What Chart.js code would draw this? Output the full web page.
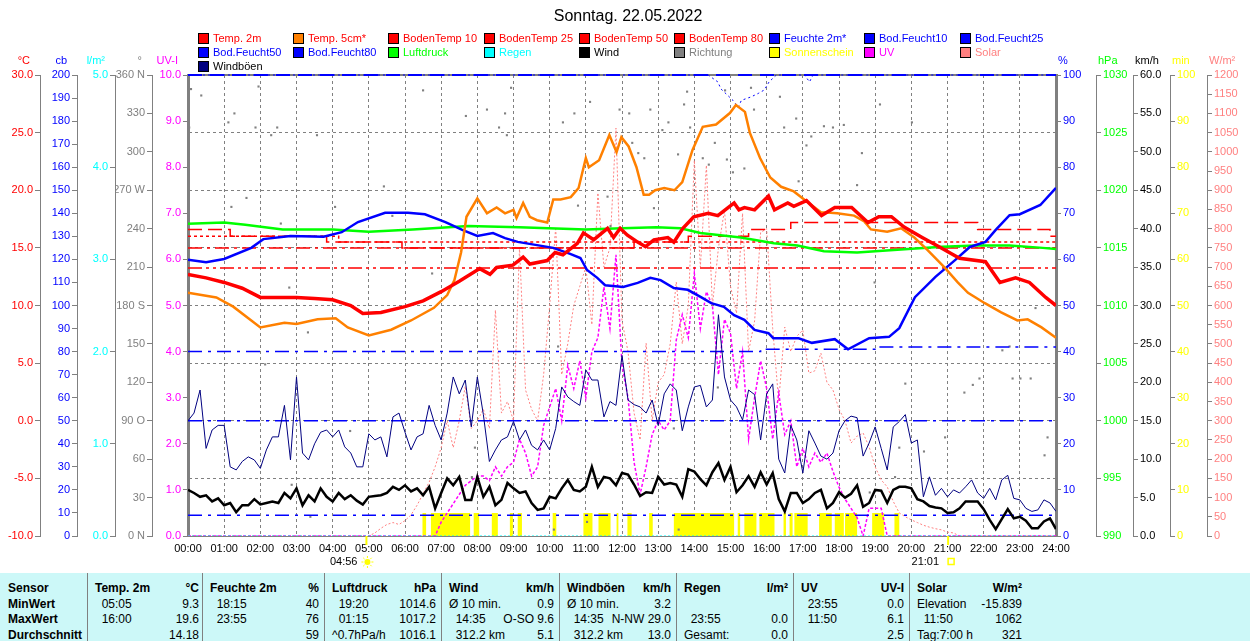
<!DOCTYPE html>
<html>
<head>
<meta charset="utf-8">
<script src="https://cdn.jsdelivr.net/npm/chart.js@4.4.1/dist/chart.umd.min.js"></script>
<style>
body{margin:0;background:#fff;font-family:"Liberation Sans",Arial,sans-serif;}
#wrap{position:relative;width:1250px;height:641px;overflow:hidden;}
#c{position:absolute;left:0;top:0;}
#title{position:absolute;left:0;top:7px;width:1256px;text-align:center;font-size:16px;line-height:18px;}
.lg{position:absolute;font-size:11px;line-height:13px;white-space:nowrap;}
.lg i{position:absolute;left:0;top:1px;width:9px;height:9px;border:1px solid #000;}
.lg span{position:absolute;left:15px;top:0;}
#tbl{position:absolute;left:0;top:573px;width:1250px;height:68px;background:#ccf8f8;font-size:12px;}
.cell{position:absolute;white-space:pre;line-height:16px;}
.b{font-weight:bold;}
.sep{position:absolute;top:0;width:1px;height:68px;background:#808080;}
</style>
</head>
<body>
<div id="wrap">
  <canvas id="c" width="1250" height="573"></canvas>
  <div id="title">Sonntag. 22.05.2022</div>
  <div id="legend"></div>
  <div id="tbl"></div>
</div>
<script>
(function(){
// ---- data ----
const t2Times = ['00:00','00:30','01:00','01:30','02:00','02:30','03:00','03:30','04:00','04:30','04:50','05:20','06:00','06:30','07:00','07:30','08:04','08:21','08:32','08:59','09:16','09:27','09:56','10:09','10:22','10:46','10:56','11:13','11:36','11:46','11:57','12:09','12:26','12:39','12:53','13:16','13:26','13:41','13:59','14:23','14:39','14:56','15:06','15:14','15:23','15:40','16:03','16:13','16:35','16:45','17:06','17:31','17:53','18:21','18:48','19:06','19:27','19:48','20:18','20:46','21:20','22:03','22:27','22:53','23:16','23:43','24:00'];
const t2Vals = [12.7,12.4,12.0,11.5,10.7,10.7,10.7,10.6,10.5,10.0,9.3,9.4,9.9,10.4,11.2,12.1,13.2,12.7,13.3,13.5,14.2,13.6,13.9,14.6,14.4,15.4,16.3,15.7,16.7,15.9,16.7,16.1,15.5,15.1,15.7,15.9,15.5,16.7,17.7,18.0,17.8,18.5,18.9,18.3,18.5,18.3,19.5,18.3,18.9,18.6,19.1,17.8,18.5,18.5,17.2,17.7,17.7,16.8,15.9,15.1,14.1,13.8,12.0,12.4,12.0,10.7,10.0];

const t5Times = ['00:00','00:47','01:15','01:45','02:00','02:40','03:00','03:35','04:05','04:25','05:00','05:37','06:10','06:48','07:10','07:22','07:33','07:42','08:00','08:16','08:32','08:46','09:00','09:05','09:16','09:27','09:39','09:56','10:06','10:18','10:35','10:48','11:00','11:05','11:22','11:39','11:51','11:59','12:11','12:24','12:36','12:45','12:55','13:10','13:27','13:40','13:57','14:14','14:36','14:59','15:09','15:24','15:32','15:49','16:06','16:24','16:45','17:07','17:30','17:57','18:25','18:42','18:53','19:20','19:43','20:05','20:27','20:55','21:17','21:34','22:02','22:29','22:56','23:13','23:36','24:00'];
const t5Vals = [11.1,10.7,9.9,8.7,8.1,8.5,8.4,8.8,8.9,8.1,7.4,7.9,8.7,9.8,10.9,12.2,14.6,17.7,19.3,18.0,18.5,18.0,18.3,17.6,18.9,17.7,17.4,17.2,19.2,19.2,19.4,20.2,22.8,22.0,22.6,24.8,23.3,24.6,23.8,22.0,19.6,19.6,20.0,20.2,20.0,20.7,23.5,25.5,25.7,26.7,27.4,26.8,25.0,22.8,21.1,20.3,19.9,19.0,18.1,18.0,17.8,17.3,16.6,16.4,16.7,15.9,14.8,13.3,12.0,11.1,10.2,9.4,8.7,8.8,8.1,7.2];

const humTimes = ['00:00','00:30','01:00','01:45','02:05','02:50','03:45','04:15','04:42','05:27','06:05','06:33','07:07','07:35','08:00','08:26','08:46','09:07','09:39','10:06','10:34','10:51','11:02','11:19','11:32','12:02','12:26','12:47','13:04','13:26','13:49','14:11','14:28','14:49','15:06','15:23','15:40','16:03','16:11','16:53','17:15','17:53','18:15','18:50','19:23','19:40','20:06','20:40','21:13','21:37','22:03','22:20','22:43','23:00','23:34','24:00'];
const humVals = [59.9,59.4,60.1,62.5,64.4,65.1,64.9,65.9,68.1,70.1,70.1,69.8,68.1,66.4,65.1,65.7,64.6,63.8,63.1,62.5,61.2,60.3,57.7,56.0,54.4,54.0,54.9,56.0,55.5,53.8,53.4,51.8,50.5,49.7,47.9,46.9,44.7,44.0,42.9,42.9,41.9,42.7,40.5,42.9,43.2,45.1,51.8,56.2,59.9,62.7,63.8,66.4,69.6,69.8,71.8,75.5];

const presTimes = ['00:00','01:00','01:35','02:37','04:00','05:00','06:13','07:45','09:09','11:00','12:00','12:57','13:37','14:10','15:17','16:12','16:51','17:35','18:30','19:55','20:51','21:46','22:43','23:38','24:00'];
const presVals = [1017.1,1017.2,1017.0,1016.6,1016.6,1016.4,1016.6,1016.9,1016.8,1016.6,1016.7,1016.8,1016.7,1016.3,1015.9,1015.4,1015.2,1014.7,1014.6,1014.9,1015.1,1015.2,1015.2,1015.0,1014.9];

const bt10Times = ['00:00','01:10','03:50','05:55','12:20','13:50','15:30','16:40','21:50','23:50','24:00'];
const bt10Vals = [16.6,16.0,15.5,15.0,15.5,16.0,16.6,17.2,16.6,16.0,16.0];
const bt25Times = ['00:00','04:10','24:00'];
const bt25Vals = [16.0,15.5,15.5];
const bt50Times = ['00:00','24:00'];
const bt50Vals = [15.0,15.0];
const bt80Times = ['00:00','24:00'];
const bt80Vals = [13.25,13.25];

const bf10Times = ['00:00','14:23','14:39','14:44','15:04','15:13','15:18','15:34','15:46','15:56','16:04','16:16','17:03','17:11','17:17','24:00'];
const bf10Vals = [200,200,197,194,189,186,189,190.5,192,193.5,197,200,200,197,200,200];
const bf25Times = ['00:00','24:00'];
const bf25Vals = [200,200];
const bf50Times = ['00:00','15:50','19:05','24:00'];
const bf50Vals = [80,81,82,82];
const bf80Times = ['00:00','24:00'];
const bf80Vals = [50,50];
const bfLowTimes = ['00:00','24:00'];
const bfLowVals = [9,9];

const rainTimes = ['00:00','24:00'];
const rainVals = [0,0];

// 10-minute values, 00:00 .. 24:00
const windVals = [6.0,5.6,5.1,5.3,4.5,4.9,4.0,4.3,3.1,4.0,
  4.0,4.8,4.1,4.3,4.5,4.3,5.6,4.9,6.2,4.0,
  5.3,4.5,6.2,5.1,4.5,5.6,4.8,5.3,4.6,4.1,
  5.1,5.2,5.3,5.6,6.4,6.0,6.6,5.8,6.2,5.3,
  6.4,3.6,5.6,7.5,6.6,7.7,4.7,4.7,7.7,5.1,
  6.4,4.0,4.7,6.9,6.2,5.6,5.8,4.3,3.4,3.6,
  5.1,4.9,6.2,7.3,6.0,5.8,6.4,9.0,6.4,7.7,
  7.5,6.6,8.2,
  8.0,6.7,5.2,5.7,5.6,7.7,6.7,6.9,6.7,5.1,
  8.7,8.4,7.4,6.6,8.3,9.5,7.3,9.0,5.7,6.6,
  7.8,6.4,8.3,6.7,8.2,4.8,3.2,5.6,5.6,4.3,
  4.8,5.6,6.0,3.6,4.3,5.7,5.0,5.5,6.6,3.8,
  4.3,6.0,5.9,4.3,6.0,6.4,6.4,6.2,4.8,4.5,
  3.9,3.7,3.6,3.0,3.1,3.6,4.5,4.5,4.5,3.5,
  2.1,0.9,2.2,3.5,2.3,2.5,2.0,1.0,1.0,1.9,
  2.3,0.9];
const gustVals = [15.0,16.0,19.0,11.4,13.8,14.4,14.4,9.0,8.6,9.7,
  10.3,9.9,8.8,11.2,12.9,12.9,17.0,9.9,20.7,10.8,
  9.9,12.0,13.5,13.8,12.9,13.8,11.6,10.8,9.0,9.0,
  13.3,12.5,12.9,10.3,15.5,16.0,13.5,11.2,12.9,13.3,
  17.0,14.4,12.5,16.0,20.7,18.5,20.3,14.2,20.7,15.8,
  9.7,11.2,12.5,12.9,14.9,12.5,13.8,11.8,11.2,12.5,
  11.2,14.0,19.4,18.1,17.5,17.0,21.6,20.3,20.3,15.5,
  17.5,17.0,23.5,
  17.7,17.1,16.8,16.0,17.7,14.4,18.5,19.8,19.0,13.7,
  16.8,19.4,19.6,16.8,17.7,28.8,20.7,17.7,16.8,15.1,
  19.0,18.4,12.5,18.5,19.8,10.0,8.2,14.4,12.5,8.2,
  13.7,12.1,10.4,10.0,10.8,13.7,15.0,15.6,15.4,10.4,
  12.1,14.2,11.4,8.6,14.2,14.9,15.8,12.1,12.5,5.1,
  7.7,5.3,6.2,5.1,6.0,5.6,6.4,7.3,5.6,4.9,
  6.2,4.7,7.3,7.9,4.9,4.7,3.6,3.2,3.4,4.7,
  4.3,3.2];
const solarVals = [0,0,0,0,0,0, 0,0,0,0,0,0, 0,0,0,0,0,0, 0,0,0,0,0,0, 0,0,0,0,0,0,
  0,8,20,30,35,30,
  40,55,80,110,140,180,
  230,300,230,300,390,280,
  300,330,280,588,320,350,
  300,752,380,330,300,420,
  600,804,420,500,600,650,
  700,550,893,700,750,1062,
  560,480,320,250,502,300,
  400,420,500,661,500,600,
  978,700,965,600,750,848,
  650,580,840,480,560,790,
  800,540,350,544,480,520,
  536,424,430,476,400,380,
  330,300,242,260,268,232,
  180,146,128,90,60,50,
  42,35,28,23,19,16,
  10,8,0,0,0,0,
  0,0,0,0,0,0, 0,0,0,0,0,0,
  0];
const uvVals = [0,0,0,0,0,0, 0,0,0,0,0,0, 0,0,0,0,0,0, 0,0,0,0,0,0, 0,0,0,0,0,0, 0,0,0,0,0,0, 0,0,0,0,0,0,
  0.3,0.5,0.7,0.9,1.1,1.2,
  1.3,1.3,1.2,1.5,1.3,1.5,
  1.6,2.1,1.8,1.3,1.5,2.4,
  2.8,3.2,2.5,3.7,3.2,3.8,
  3.0,4.0,4.3,5.4,4.5,6.1,
  3.7,3.0,1.6,0.9,1.5,2.2,
  2.5,2.3,2.5,4.25,4.8,4.3,
  5.7,4.5,5.3,5.0,3.5,4.7,
  4.4,3.2,4.0,2.1,3.0,3.8,
  3.2,2.1,3.1,2.2,2.5,1.5,
  1.9,1.5,1.8,1.6,1.8,1.4,
  1.06,0.8,0.6,0.4,0.0,0.6,
  0.6,0.6,0,0,0,0,
  0,0,0,0,0,0, 0,0,0,0,0,0, 0,0,0,0,0,0, 0,0,0,0,0,0,
  0];

const sunStart = ['06:29','06:43','07:54','08:24','08:54','09:07','10:05','10:56','11:21','11:51','12:09','12:45','13:26','15:12','15:23','15:48','16:28','16:38','16:46','17:27','17:53','18:10','18:55','19:32'];
const sunEnd   = ['06:35','07:48','08:03','08:34','08:59','09:14','10:11','11:11','11:41','11:54','12:16','12:51','15:06','15:16','15:43','16:13','16:32','16:43','17:08','17:48','18:08','18:30','19:15','19:40'];

const dirTimes = ['00:02','00:05','00:22','01:07','01:12','01:17','01:37','01:52','01:57','02:08','02:18','02:28','02:34','02:48','02:52','03:19','03:23','03:34','04:04','04:29','05:25','05:39','06:30','06:45','07:41','07:51','07:56','08:16','08:36','08:46','08:49','08:56','10:07','10:14','10:22','10:41','10:47','11:02','11:07','11:36','11:41','11:56','12:12','12:17','12:27','12:37','12:47','12:53','13:07','13:17','13:26','13:33','13:34','13:43','13:48','13:53','14:14','14:24','14:34','14:39','14:51','14:54','15:04','15:23','15:34','15:39','16:22','16:29','16:49','16:53','17:06','17:14','17:35','17:50','18:08','18:30','18:38','18:51','18:59','19:08','19:33','19:40','19:50','20:01','20:21','20:56','21:28','21:42','21:53','22:31','22:43','22:48','23:01','23:18','23:26','23:41','23:46'];
const dirDeg = [319,349,344,323,257,330,264,319,351,134,313,319,244,194,40,159,15,313,257,82,273,250,348,205,328,46,69,333,319,330,313,350,5,148,323,330,258,11,339,265,242,333,330,307,299,295,333,256,317,323,84,298,5,337,347,319,295,290,307,116,348,294,284,287,350,333,343,319,326,277,305,312,320,319,321,274,299,34,198,337,46,69,119,323,66,77,112,118,123,145,148,123,123,123,178,63,77];

const sunEvents = ['04:56','21:01'];
const dirTicks = [0,90,180,270,360];
const dirNames = ['N','O','S','W','N'];

const legendItems = [
  ['Temp. 2m','#ff0000','#ff0000'],['Temp. 5cm*','#ff8000','#ff0000'],['BodenTemp 10','#ff0000','#ff0000'],
  ['BodenTemp 25','#ff0000','#ff0000'],['BodenTemp 50','#ff0000','#ff0000'],['BodenTemp 80','#ff0000','#ff0000'],
  ['Feuchte 2m*','#0000ff','#0000ff'],['Bod.Feucht10','#0000ff','#0000ff'],['Bod.Feucht25','#0000ff','#0000ff'],
  ['Bod.Feucht50','#0000ff','#0000ff'],['Bod.Feucht80','#0000ff','#0000ff'],['Luftdruck','#00ff00','#00ff00'],
  ['Regen','#00ffff','#00ffff'],['Wind','#000000','#000000'],['Richtung','#808080','#808080'],
  ['Sonnenschein','#ffff00','#ffff00'],['UV','#ff00ff','#ff00ff'],['Solar','#ff8080','#ff8080'],
  ['Windböen','#000080','#000000']
];

const axisTitles = [['yT','°C','#ff0000'],['yCb','cb','#0000ff'],['yRain','l/m²','#00ffff'],['yDir','°','#808080'],['yUv','UV-I','#ff00ff'],
  ['yHum','%','#0000ff'],['yPres','hPa','#00ff00'],['yWind','km/h','#000000'],['ySun','min','#ffff00'],['ySol','W/m²','#ff8080']];

const tableCols = [[0,87],[87,202],[202,324],[324,441],[441,559],[559,676],[676,793],[793,909],[909,1027]];
const tableRows = [
  [['Sensor',''],['Temp. 2m','°C'],['Feuchte 2m','%'],['Luftdruck','hPa'],['Wind','km/h'],['Windböen','km/h'],['Regen','l/m²'],['UV','UV-I'],['Solar','W/m²']],
  [['MinWert',''],['  05:05','9.3'],['  18:15','40'],['  19:20','1014.6'],['Ø 10 min.','0.9'],['Ø 10 min.','3.2'],['',''],['  23:55','0.0'],['Elevation','-15.839']],
  [['MaxWert',''],['  16:00','19.6'],['  23:55','76'],['  01:15','1017.2'],['  14:35','O-SO 9.6'],['  14:35','N-NW 29.0'],['  23:55','0.0'],['  11:50','6.1'],['  11:50','1062']],
  [['Durchschnitt',''],['','14.18'],['','59'],['^0.7hPa/h','1016.1'],['  312.2 km','5.1'],['  312.2 km','13.0'],['Gesamt:','0.0'],['','2.5'],['Tag:7:00 h','321']]
];

// ---- helpers ----
function hm(t){ const p = t.split(':'); return +p[0] + p[1]/60; }
function pts(times, vals){ return times.map((t,i) => ({x: hm(t), y: vals[i]})); }
function grid10(vals){ return vals.map((v,i) => ({x: i/6, y: v})); }

// legend
const lg = document.getElementById('legend');
legendItems.forEach((it,i) => {
  const d = document.createElement('div');
  d.className = 'lg';
  d.style.left = Math.round(198 + 95.2*(i%9)) + 'px';
  d.style.top = (32 + 14*Math.floor(i/9)) + 'px';
  d.innerHTML = '<i style="background:'+it[1]+'"></i><span style="color:'+it[2]+'">'+it[0]+'</span>';
  lg.appendChild(d);
});

// table
const tb = document.getElementById('tbl');
tableCols.slice(1).forEach(c => {
  const s = document.createElement('div'); s.className = 'sep'; s.style.left = c[0] + 'px'; tb.appendChild(s);
});
tableRows.forEach((row,r) => {
  row.forEach((cell,c) => {
    const [x0,x1] = tableCols[c];
    const bold = (r === 0 || c === 0) ? ' b' : '';
    const top = Math.round(7 + 15.7*r) + 'px';
    const a = document.createElement('div');
    a.className = 'cell' + bold; a.style.left = (x0 + 8) + 'px'; a.style.top = top;
    a.textContent = cell[0]; tb.appendChild(a);
    const b = document.createElement('div');
    b.className = 'cell' + bold; b.style.right = (1250 - x1 + (c === 1 ? 3 : 5)) + 'px'; b.style.top = top;
    b.textContent = cell[1]; tb.appendChild(b);
  });
});

// ---- chart ----
Chart.defaults.font.family = '"Liberation Sans", Arial, sans-serif';
Chart.defaults.font.size = 11;
Chart.defaults.color = '#000';

function yAxis(pos, weight, width, min, max, step, color, fmt, borderWidth){
  return {
    type: 'linear', position: pos, weight: weight, min: min, max: max,
    afterFit: s => { s.width = width; },
    ticks: {stepSize: step, autoSkip: false, color: color, padding: 2, callback: fmt},
    grid: {drawOnChartArea: false, drawTicks: true, tickLength: 5, color: '#808080'},
    border: {display: true, color: '#808080', width: borderWidth || 1}
  };
}

const scales = {
  x: {
    type: 'linear', position: 'bottom', min: 0, max: 24,
    afterFit: s => { s.height = 37; },
    ticks: {stepSize: 1, autoSkip: false, maxRotation: 0, padding: 6, color: '#000',
      callback: v => (v < 10 ? '0' : '') + v + ':00'},
    grid: {color: '#808080', drawTicks: false},
    border: {display: true, color: '#808080', width: 1, dash: [3,3]}
  },
  yT: yAxis('left', 5, 40, -10, 30, 5, '#ff0000', v => v.toFixed(1)),
  yCb: yAxis('left', 4, 37, 0, 200, 10, '#0000ff', v => v),
  yRain: yAxis('left', 3, 38, 0, 5, 1, '#00ffff', v => v.toFixed(1)),
  yDir: yAxis('left', 2, 37, 0, 360, 30, '#808080', v => { const k = dirTicks.indexOf(v); return k < 0 ? '' + v : v + ' ' + dirNames[k]; }),
  yUv: yAxis('left', 1, 36, 0, 10, 1, '#ff00ff', v => v.toFixed(1), 3),
  yHum: yAxis('right', 1, 40, 0, 100, 10, '#0000ff', v => v, 3),
  yPres: yAxis('right', 2, 37, 990, 1030, 5, '#00ff00', v => v),
  yWind: yAxis('right', 3, 37, 0, 60, 5, '#000000', v => v.toFixed(1)),
  ySun: yAxis('right', 4, 37, 0, 100, 10, '#ffff00', v => v),
  ySol: yAxis('right', 5, 43, 0, 1200, 50, '#ff8080', v => v)
};
scales.yT.grid = {drawOnChartArea: true, drawTicks: true, tickLength: 5, color: '#808080', tickBorderDash: []};
scales.yT.border.dash = [3,3];

const sunData = [{x: 0, y: 0}];
sunStart.forEach((s,i) => { sunData.push({x: hm(s), y: 5}, {x: hm(sunEnd[i]), y: 0}); });
sunData.push({x: 24, y: 0});

function line(label, data, axis, color, width, dash, order, extra){
  return Object.assign({label: label, data: data, yAxisID: axis, borderColor: color, backgroundColor: color,
    borderWidth: width, borderDash: dash || [], pointRadius: 0, tension: 0, fill: false, order: order}, extra || {});
}

const datasets = [
  line('Sonnenschein', sunData, 'ySun', '#ffff00', 0, null, 30, {stepped: true, fill: 'origin', backgroundColor: '#ffff00'}),
  line('Solar', grid10(solarVals), 'ySol', '#ff8080', 1, [2,2], 25),
  line('UV', grid10(uvVals), 'yUv', '#ff00ff', 1.5, [3,2], 24),
  {label: 'Richtung', data: pts(dirTimes, dirDeg), yAxisID: 'yDir', showLine: false, pointStyle: 'rect',
    pointRadius: 1.5, pointBorderWidth: 0, pointBackgroundColor: '#808080', borderColor: '#808080', order: 23},
  line('Bod.Feucht10', pts(bf10Times, bf10Vals), 'yCb', '#0000ff', 1, [2,3], 22, {clip: 4}),
  line('Bod.Feucht25', pts(bf25Times, bf25Vals), 'yCb', '#0000ff', 2, [14,8], 2, {clip: 4}),
  line('Bod.Feucht50', pts(bf50Times, bf50Vals), 'yCb', '#0000ff', 1.5, [14,6,3,6], 22, {stepped: true}),
  line('Bod.Feucht80', pts(bf80Times, bf80Vals), 'yCb', '#0000ff', 1.5, [14,6,3,6], 22),
  line('Bod.Feucht', pts(bfLowTimes, bfLowVals), 'yCb', '#0000ff', 1.5, [14,6,3,6], 22),
  line('BodenTemp 10', pts(bt10Times, bt10Vals), 'yT', '#ff0000', 1.5, [14,6], 21, {stepped: true}),
  line('BodenTemp 25', pts(bt25Times, bt25Vals), 'yT', '#ff0000', 1.5, [3,3], 21, {stepped: true}),
  line('BodenTemp 50', pts(bt50Times, bt50Vals), 'yT', '#ff0000', 1.5, [14,5,3,5], 21),
  line('BodenTemp 80', pts(bt80Times, bt80Vals), 'yT', '#ff0000', 1.5, [14,4,3,4,3,4], 21),
  line('Regen', pts(rainTimes, rainVals), 'yRain', '#00ffff', 1, [2,2], 20),
  line('Windböen', grid10(gustVals), 'yWind', '#000080', 1, null, 12),
  line('Wind', grid10(windVals), 'yWind', '#000000', 2.5, null, 11),
  line('Luftdruck', pts(presTimes, presVals), 'yPres', '#00ff00', 2.5, null, 10),
  line('Feuchte 2m*', pts(humTimes, humVals), 'yHum', '#0000ff', 2.5, null, 9),
  line('Temp. 5cm*', pts(t5Times, t5Vals), 'yT', '#ff8000', 2.5, null, 8),
  line('Temp. 2m', pts(t2Times, t2Vals), 'yT', '#ff0000', 3.5, null, 7)
];

const overlay = {
  id: 'overlay',
  beforeDatasetsDraw(chart){
    const {ctx, chartArea: a} = chart;
    ctx.save();
    ctx.strokeStyle = '#808080'; ctx.lineWidth = 2;
    ctx.beginPath(); ctx.moveTo(a.left, a.top); ctx.lineTo(a.right, a.top); ctx.stroke();
    ctx.restore();
  },
  afterDraw(chart){
    const ctx = chart.ctx;
    ctx.save();
    ctx.font = '11px "Liberation Sans", Arial, sans-serif';
    ctx.textBaseline = 'middle';
    axisTitles.forEach(([id, text, color]) => {
      const s = chart.scales[id];
      ctx.fillStyle = color;
      if (s.position === 'left'){ ctx.textAlign = 'right'; ctx.fillText(text, s.right - 10, 61); }
      else { ctx.textAlign = 'left'; ctx.fillText(text, s.left + 2, 61); }
    });
    const xs = chart.scales.x, bottom = chart.chartArea.bottom;
    sunEvents.forEach((t,i) => {
      const px = xs.getPixelForValue(hm(t));
      ctx.strokeStyle = '#ffff00'; ctx.lineWidth = 2;
      ctx.beginPath(); ctx.moveTo(px, bottom); ctx.lineTo(px, bottom + 9); ctx.stroke();
      ctx.fillStyle = '#000'; ctx.textAlign = 'right';
      ctx.fillText(t, px - 9, 562);
      if (i === 0){
        ctx.fillStyle = '#ffff00';
        ctx.beginPath(); ctx.arc(px + 1, 562, 3, 0, Math.PI*2); ctx.fill();
        ctx.strokeStyle = '#ffff00'; ctx.lineWidth = 1;
        for (let k = 0; k < 8; k++){
          const an = k*Math.PI/4;
          ctx.beginPath();
          ctx.moveTo(px + 1 + Math.cos(an)*4, 562 + Math.sin(an)*4);
          ctx.lineTo(px + 1 + Math.cos(an)*6, 562 + Math.sin(an)*6);
          ctx.stroke();
        }
      } else {
        ctx.strokeStyle = '#ffff00'; ctx.lineWidth = 1.5;
        ctx.strokeRect(px, 558.5, 6, 6);
      }
    });
    ctx.restore();
  }
};

new Chart(document.getElementById('c'), {
  type: 'line',
  data: {datasets: datasets},
  options: {
    responsive: false, animation: false,
    layout: {padding: {top: 75, left: 0, right: 0, bottom: 0}},
    scales: scales,
    plugins: {legend: {display: false}, tooltip: {enabled: false}, title: {display: false}}
  },
  plugins: [overlay]
});
})();
</script>
</body>
</html>
